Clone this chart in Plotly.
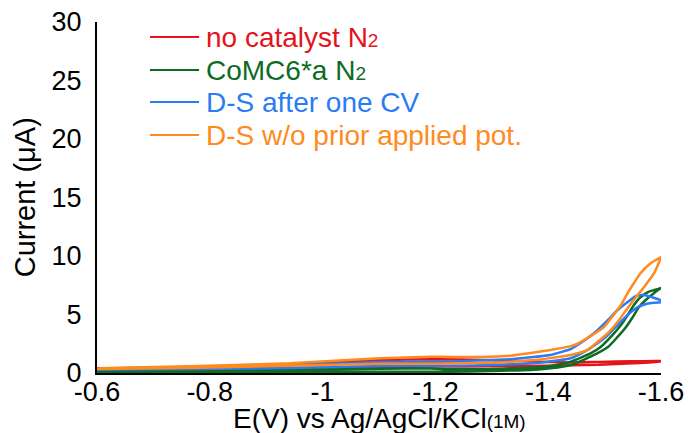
import plotly.graph_objects as go

# Cyclic voltammograms: potential (V vs Ag/AgCl/KCl 1M) and current (uA)
# Each series is stored as the outbound sweep (-0.6 -> -1.6 V) and the return sweep.

red_out_E = [-0.60, -0.80, -1.00, -1.20, -1.30, -1.40, -1.44, -1.49, -1.55, -1.60]
red_out_I = [0.30, 0.35, 0.45, 0.55, 0.58, 0.62, 0.66, 0.70, 0.83, 1.00]
red_ret_E = [-1.60, -1.55, -1.49, -1.44, -1.40, -1.30, -1.20, -1.10, -1.00, -0.80, -0.60]
red_ret_I = [1.03, 1.00, 0.95, 0.90, 0.95, 1.10, 1.18, 1.10, 0.85, 0.50, 0.38]

green_out_E = [-0.60, -0.78, -0.94, -1.10, -1.226, -1.298, -1.369, -1.404, -1.440, -1.475,
               -1.506, -1.523, -1.538, -1.550, -1.561, -1.573, -1.588, -1.600]
green_out_I = [0.09, 0.10, 0.10, 0.11, 0.11, 0.17, 0.26, 0.40, 0.68, 1.39,
               2.22, 3.08, 3.93, 4.79, 5.64, 6.24, 6.84, 7.26]
green_ret_E = [-1.600, -1.588, -1.577, -1.564, -1.552, -1.541, -1.529, -1.511, -1.493, -1.475,
               -1.440, -1.404, -1.369, -1.333, -1.298, -1.226, -1.191, -1.102, -0.942, -0.781, -0.604]
green_ret_I = [7.26, 7.09, 6.92, 6.50, 5.81, 4.96, 4.10, 3.08, 2.22, 1.68,
               0.97, 0.60, 0.45, 0.40, 0.34, 0.32, 0.38, 0.36, 0.26, 0.20, 0.17]

blue_out_E = [-0.60, -0.78, -0.94, -1.10, -1.19, -1.23, -1.30, -1.33, -1.37, -1.40, -1.44,
              -1.470, -1.488, -1.506, -1.523, -1.541, -1.556, -1.568, -1.582, -1.600]
blue_out_I = [0.30, 0.34, 0.43, 0.60, 0.62, 0.62, 0.68, 0.74, 0.83, 0.97, 1.26,
              1.97, 2.56, 3.25, 4.10, 4.96, 5.56, 5.81, 5.98, 6.05]
blue_ret_E = [-1.600, -1.588, -1.570, -1.556, -1.541, -1.523, -1.506, -1.488, -1.470, -1.452,
              -1.440, -1.404, -1.369, -1.333, -1.298, -1.226, -1.191, -1.102, -0.942, -0.781, -0.604]
blue_ret_I = [6.20, 6.41, 6.67, 6.58, 6.07, 5.38, 4.53, 3.68, 2.99, 2.39,
              2.05, 1.54, 1.34, 1.17, 1.11, 0.97, 0.97, 0.94, 0.68, 0.51, 0.38]

orange_out_E = [-0.60, -0.78, -0.94, -1.10, -1.20, -1.30, -1.33, -1.37, -1.40, -1.44,
                -1.470, -1.481, -1.506, -1.523, -1.541, -1.556, -1.570, -1.588, -1.596, -1.600]
orange_out_I = [0.34, 0.45, 0.62, 0.78, 0.80, 0.88, 0.95, 1.08, 1.25, 1.54,
                1.97, 2.39, 3.42, 4.36, 5.56, 6.50, 7.35, 8.55, 9.40, 9.91]
orange_ret_E = [-1.600, -1.582, -1.564, -1.552, -1.541, -1.529, -1.516, -1.499, -1.475, -1.452,
                -1.440, -1.404, -1.369, -1.333, -1.298, -1.226, -1.191, -1.102, -0.942, -0.781, -0.604]
orange_ret_I = [9.91, 9.40, 8.55, 7.69, 6.84, 5.81, 4.96, 3.93, 3.15, 2.50,
                2.30, 1.97, 1.71, 1.48, 1.39, 1.37, 1.39, 1.26, 0.83, 0.60, 0.40]

SMALL = "<span style='font-size:19px'>{}</span>"
series_names = ["no catalyst N" + SMALL.format("2"), "CoMC6*a N" + SMALL.format("2"),
                "D-S after one CV", "D-S w/o prior applied pot."]
series_colors = ["#E3141B", "#0E6B23", "#2B7BF6", "#FF8A1E"]

x_tick_vals = [-0.6, -0.8, -1.0, -1.2, -1.4, -1.6]
x_tick_text = ["-0.6", "-0.8", "-1", "-1.2", "-1.4", "-1.6"]
y_tick_vals = [0, 5, 10, 15, 20, 25, 30]

x_title = "E(V) vs Ag/AgCl/KCl" + SMALL.format("(1M)")
y_title = "Current (μA)"

loops = [
    (red_out_E + red_ret_E, red_out_I + red_ret_I),
    (green_out_E + green_ret_E, green_out_I + green_ret_I),
    (blue_out_E + blue_ret_E, blue_out_I + blue_ret_I),
    (orange_out_E + orange_ret_E, orange_out_I + orange_ret_I),
]

FONT = "Liberation Sans, Arial, sans-serif"

fig = go.Figure()
for (E, I), name, color in zip(loops, series_names, series_colors):
    fig.add_trace(go.Scatter(
        x=E, y=I, mode="lines", name=name,
        line=dict(color=color, width=2.5, shape="spline", smoothing=0.5),
        showlegend=False,
    ))

# Legend drawn as short line samples with coloured labels
legend_rows_y = [0.957, 0.863, 0.772, 0.678]
for name, color, ly in zip(series_names, series_colors, legend_rows_y):
    fig.add_shape(type="line", xref="paper", yref="paper",
                  x0=0.094, x1=0.181, y0=ly, y1=ly,
                  line=dict(color=color, width=2))
    fig.add_annotation(xref="paper", yref="paper", x=0.19, y=ly,
                       xanchor="left", yanchor="middle", showarrow=False,
                       text=name, font=dict(family=FONT, size=28, color=color))

# Axis titles
fig.add_annotation(xref="paper", yref="paper", x=0.5, y=-0.08,
                   xanchor="center", yanchor="top", showarrow=False,
                   text=x_title, font=dict(family=FONT, size=28, color="black"))
fig.add_annotation(xref="paper", yref="paper", x=-0.128, y=0.5,
                   xanchor="center", yanchor="middle", showarrow=False, textangle=-90,
                   text=y_title, font=dict(family=FONT, size=29, color="black"))

fig.update_layout(
    width=690, height=433,
    margin=dict(l=97, r=29, t=22, b=60, autoexpand=False),
    paper_bgcolor="white", plot_bgcolor="white",
    font=dict(family=FONT, size=27, color="black"),
    xaxis=dict(
        range=[-0.6, -1.6], tickvals=x_tick_vals, ticktext=x_tick_text,
        showline=True, linecolor="black", linewidth=2, showgrid=False, zeroline=False,
        ticks="", tickfont=dict(size=27), ticklabelstandoff=-6, automargin=False,
    ),
    yaxis=dict(
        range=[0, 30], tickvals=y_tick_vals,
        showline=True, linecolor="black", linewidth=2, showgrid=False, zeroline=False,
        ticks="", tickfont=dict(size=27), ticklabelstandoff=8, automargin=False,
    ),
)

fig.write_html("out.html")
